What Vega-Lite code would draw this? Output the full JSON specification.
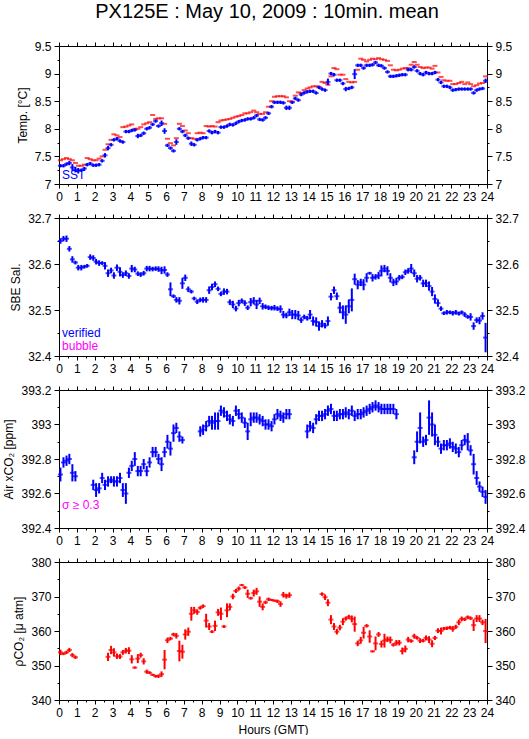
{
"$schema": "https://vega.github.io/schema/vega-lite/v6.json",
"padding": {"left": 2, "top": 2, "right": 0, "bottom": 0},
"title": {"text": "PX125E : May 10, 2009 : 10min. mean", "fontSize": 20, "fontWeight": "normal", "font": "Liberation Sans", "anchor": "middle", "offset": 18, "dx": 3, "color": "black"},
"config": {
 "font": "Liberation Sans",
 "view": {"stroke": null},
 "axis": {"domainColor": "black", "tickColor": "black", "labelColor": "black", "titleColor": "black", "grid": false, "labelFont": "Liberation Sans", "titleFont": "Liberation Sans", "titleFontWeight": "normal", "titleFontSize": 12, "labelFontSize": 12, "labelOverlap": false, "labelFlush": false, "labelBound": false, "domainWidth": 1, "tickWidth": 1, "labelPadding": 3, "titlePadding": 5}
},
"bounds": "flush",
"spacing": 34,
"datasets": {
"tempR": [
{"h":0.08,"v":7.43},{"h":0.25,"v":7.45},{"h":0.42,"v":7.47},{"h":0.58,"v":7.45},{"h":0.75,"v":7.43},{"h":0.92,"v":7.38},
{"h":1.08,"v":7.33},{"h":1.25,"v":7.33},{"h":1.42,"v":7.35},{"h":1.58,"v":7.47},{"h":1.75,"v":7.45},{"h":1.92,"v":7.43},
{"h":2.08,"v":7.43},{"h":2.25,"v":7.46},{"h":2.42,"v":7.5},{"h":2.58,"v":7.62},{"h":2.75,"v":7.72},{"h":2.92,"v":7.8},
{"h":3.08,"v":7.9},{"h":3.25,"v":7.88},{"h":3.42,"v":7.85},{"h":3.58,"v":8.03},{"h":3.75,"v":8.04},{"h":3.92,"v":8.06},
{"h":4.08,"v":8.08},{"h":4.25,"v":8.0},{"h":4.42,"v":8.0},{"h":4.58,"v":8.03},{"h":4.75,"v":8.08},{"h":4.92,"v":8.1},
{"h":5.08,"v":8.12},{"h":5.25,"v":8.25},{"h":5.42,"v":8.18},{"h":5.58,"v":8.19},{"h":5.75,"v":8.19},{"h":5.92,"v":8.09},
{"h":6.08,"v":7.82},{"h":6.25,"v":7.74},{"h":6.42,"v":7.7},{"h":6.58,"v":7.83},{"h":6.75,"v":8.09},{"h":6.92,"v":8.05},
{"h":7.08,"v":7.97},{"h":7.25,"v":7.92},{"h":7.42,"v":7.83},{"h":7.58,"v":7.82},{"h":7.75,"v":7.92},{"h":7.92,"v":7.93},
{"h":8.08,"v":7.92},{"h":8.25,"v":8.05},{"h":8.42,"v":8.04},{"h":8.58,"v":8.05},{"h":8.75,"v":8.04},{"h":8.92,"v":8.12},
{"h":9.08,"v":8.15},{"h":9.25,"v":8.16},{"h":9.42,"v":8.17},{"h":9.58,"v":8.18},{"h":9.75,"v":8.2},{"h":9.92,"v":8.22},
{"h":10.08,"v":8.23},{"h":10.25,"v":8.25},{"h":10.42,"v":8.28},{"h":10.58,"v":8.28},{"h":10.75,"v":8.3},{"h":10.92,"v":8.33},
{"h":11.08,"v":8.3},{"h":11.25,"v":8.27},{"h":11.42,"v":8.27},{"h":11.58,"v":8.3},{"h":11.75,"v":8.4},{"h":11.92,"v":8.5},
{"h":12.08,"v":8.58},{"h":12.25,"v":8.59},{"h":12.42,"v":8.59},{"h":12.58,"v":8.59},{"h":12.75,"v":8.57},{"h":12.92,"v":8.5},
{"h":13.08,"v":8.49},{"h":13.25,"v":8.6},{"h":13.42,"v":8.66},{"h":13.58,"v":8.65},{"h":13.75,"v":8.7},{"h":13.92,"v":8.73},
{"h":14.08,"v":8.75},{"h":14.25,"v":8.77},{"h":14.42,"v":8.77},{"h":14.58,"v":8.76},{"h":14.75,"v":8.85},{"h":14.92,"v":8.83},
{"h":15.08,"v":8.8},{"h":15.25,"v":8.95},{"h":15.42,"v":9.1},{"h":15.58,"v":9.08},{"h":15.75,"v":8.98},{"h":15.92,"v":8.98},
{"h":16.08,"v":8.9},{"h":16.25,"v":8.85},{"h":16.42,"v":8.84},{"h":16.58,"v":8.85},{"h":16.75,"v":9.07},{"h":16.92,"v":9.27},
{"h":17.08,"v":9.25},{"h":17.25,"v":9.22},{"h":17.42,"v":9.25},{"h":17.58,"v":9.27},{"h":17.75,"v":9.26},{"h":17.92,"v":9.28},
{"h":18.08,"v":9.26},{"h":18.25,"v":9.25},{"h":18.42,"v":9.23},{"h":18.58,"v":9.15},{"h":18.75,"v":9.07},{"h":18.92,"v":9.06},
{"h":19.08,"v":9.07},{"h":19.25,"v":9.09},{"h":19.42,"v":9.1},{"h":19.58,"v":9.1},{"h":19.75,"v":9.16},{"h":19.92,"v":9.21},
{"h":20.08,"v":9.16},{"h":20.25,"v":9.12},{"h":20.42,"v":9.1},{"h":20.58,"v":9.11},{"h":20.75,"v":9.11},{"h":20.92,"v":9.09},
{"h":21.08,"v":9.14},{"h":21.25,"v":9.02},{"h":21.42,"v":8.94},{"h":21.58,"v":8.88},{"h":21.75,"v":8.87},{"h":21.92,"v":8.87},
{"h":22.08,"v":8.81},{"h":22.25,"v":8.81},{"h":22.42,"v":8.83},{"h":22.58,"v":8.85},{"h":22.75,"v":8.81},{"h":22.92,"v":8.84},
{"h":23.08,"v":8.81},{"h":23.25,"v":8.77},{"h":23.42,"v":8.79},{"h":23.58,"v":8.82},{"h":23.75,"v":8.83},{"h":23.92,"v":8.95}
],
"tempB": [
{"h":0.08,"v":7.33,"e":0.03},{"h":0.25,"v":7.33,"e":0.03},{"h":0.42,"v":7.36,"e":0.03},{"h":0.58,"v":7.38,"e":0.04},{"h":0.75,"v":7.3,"e":0.06},{"h":0.92,"v":7.26,"e":0.05},
{"h":1.08,"v":7.24,"e":0.05},{"h":1.25,"v":7.25,"e":0.03},{"h":1.42,"v":7.28,"e":0.03},{"h":1.58,"v":7.35,"e":0.03},{"h":1.75,"v":7.37,"e":0.03},{"h":1.92,"v":7.34,"e":0.03},
{"h":2.08,"v":7.34,"e":0.03},{"h":2.25,"v":7.35,"e":0.03},{"h":2.42,"v":7.42,"e":0.03},{"h":2.58,"v":7.52,"e":0.04},{"h":2.75,"v":7.65,"e":0.04},{"h":2.92,"v":7.71,"e":0.03},
{"h":3.08,"v":7.8,"e":0.03},{"h":3.25,"v":7.82,"e":0.03},{"h":3.42,"v":7.78,"e":0.03},{"h":3.58,"v":7.76,"e":0.03},{"h":3.75,"v":7.95,"e":0.03},{"h":3.92,"v":7.95,"e":0.03},
{"h":4.08,"v":7.97,"e":0.03},{"h":4.25,"v":7.98,"e":0.03},{"h":4.42,"v":7.87,"e":0.04},{"h":4.58,"v":7.88,"e":0.03},{"h":4.75,"v":7.92,"e":0.03},{"h":4.92,"v":8.0,"e":0.03},
{"h":5.08,"v":8.02,"e":0.03},{"h":5.25,"v":8.08,"e":0.03},{"h":5.42,"v":8.14,"e":0.03},{"h":5.58,"v":8.05,"e":0.03},{"h":5.75,"v":8.1,"e":0.05},{"h":5.92,"v":7.96,"e":0.05},
{"h":6.08,"v":7.7,"e":0.03},{"h":6.25,"v":7.65,"e":0.03},{"h":6.42,"v":7.6,"e":0.03},{"h":6.58,"v":7.76,"e":0.05},{"h":6.75,"v":8.0,"e":0.03},{"h":6.92,"v":7.95,"e":0.03},
{"h":7.08,"v":7.88,"e":0.03},{"h":7.25,"v":7.83,"e":0.03},{"h":7.42,"v":7.73,"e":0.04},{"h":7.58,"v":7.71,"e":0.03},{"h":7.75,"v":7.8,"e":0.03},{"h":7.92,"v":7.82,"e":0.03},
{"h":8.08,"v":7.84,"e":0.03},{"h":8.25,"v":7.84,"e":0.03},{"h":8.42,"v":7.96,"e":0.03},{"h":8.58,"v":7.93,"e":0.03},{"h":8.75,"v":7.95,"e":0.03},{"h":8.92,"v":7.93,"e":0.03},
{"h":9.08,"v":8.03,"e":0.03},{"h":9.25,"v":8.03,"e":0.03},{"h":9.42,"v":8.05,"e":0.03},{"h":9.58,"v":8.08,"e":0.03},{"h":9.75,"v":8.07,"e":0.03},{"h":9.92,"v":8.1,"e":0.03},
{"h":10.08,"v":8.13,"e":0.03},{"h":10.25,"v":8.15,"e":0.03},{"h":10.42,"v":8.16,"e":0.03},{"h":10.58,"v":8.18,"e":0.03},{"h":10.75,"v":8.18,"e":0.03},{"h":10.92,"v":8.2,"e":0.03},
{"h":11.08,"v":8.24,"e":0.03},{"h":11.25,"v":8.17,"e":0.03},{"h":11.42,"v":8.16,"e":0.03},{"h":11.58,"v":8.2,"e":0.03},{"h":11.75,"v":8.28,"e":0.03},{"h":11.92,"v":8.4,"e":0.03},
{"h":12.08,"v":8.48,"e":0.03},{"h":12.25,"v":8.48,"e":0.03},{"h":12.42,"v":8.48,"e":0.03},{"h":12.58,"v":8.47,"e":0.03},{"h":12.75,"v":8.38,"e":0.04},{"h":12.92,"v":8.38,"e":0.04},
{"h":13.08,"v":8.48,"e":0.03},{"h":13.25,"v":8.55,"e":0.03},{"h":13.42,"v":8.52,"e":0.03},{"h":13.58,"v":8.62,"e":0.03},{"h":13.75,"v":8.65,"e":0.03},{"h":13.92,"v":8.67,"e":0.03},
{"h":14.08,"v":8.68,"e":0.03},{"h":14.25,"v":8.68,"e":0.03},{"h":14.42,"v":8.65,"e":0.03},{"h":14.58,"v":8.75,"e":0.03},{"h":14.75,"v":8.72,"e":0.03},{"h":14.92,"v":8.7,"e":0.03},
{"h":15.08,"v":8.85,"e":0.06},{"h":15.25,"v":9.0,"e":0.03},{"h":15.42,"v":8.98,"e":0.03},{"h":15.58,"v":8.88,"e":0.03},{"h":15.75,"v":8.88,"e":0.03},{"h":15.92,"v":8.82,"e":0.03},
{"h":16.08,"v":8.72,"e":0.04},{"h":16.25,"v":8.73,"e":0.03},{"h":16.42,"v":8.75,"e":0.03},{"h":16.58,"v":8.99,"e":0.09},{"h":16.75,"v":9.15,"e":0.03},{"h":16.92,"v":9.15,"e":0.03},
{"h":17.08,"v":9.1,"e":0.03},{"h":17.25,"v":9.15,"e":0.03},{"h":17.42,"v":9.15,"e":0.03},{"h":17.58,"v":9.16,"e":0.03},{"h":17.75,"v":9.2,"e":0.03},{"h":17.92,"v":9.15,"e":0.03},
{"h":18.08,"v":9.14,"e":0.03},{"h":18.25,"v":9.1,"e":0.03},{"h":18.42,"v":9.03,"e":0.03},{"h":18.58,"v":8.95,"e":0.03},{"h":18.75,"v":8.95,"e":0.03},{"h":18.92,"v":8.96,"e":0.03},
{"h":19.08,"v":8.97,"e":0.03},{"h":19.25,"v":8.98,"e":0.03},{"h":19.42,"v":8.98,"e":0.03},{"h":19.58,"v":9.07,"e":0.03},{"h":19.75,"v":9.07,"e":0.03},{"h":19.92,"v":9.12,"e":0.03},
{"h":20.08,"v":9.05,"e":0.03},{"h":20.25,"v":9.0,"e":0.03},{"h":20.42,"v":8.98,"e":0.03},{"h":20.58,"v":9.02,"e":0.03},{"h":20.75,"v":9.0,"e":0.03},{"h":20.92,"v":9.0,"e":0.03},
{"h":21.08,"v":9.02,"e":0.03},{"h":21.25,"v":8.89,"e":0.03},{"h":21.42,"v":8.84,"e":0.03},{"h":21.58,"v":8.77,"e":0.03},{"h":21.75,"v":8.77,"e":0.03},{"h":21.92,"v":8.75,"e":0.03},
{"h":22.08,"v":8.7,"e":0.03},{"h":22.25,"v":8.71,"e":0.03},{"h":22.42,"v":8.72,"e":0.03},{"h":22.58,"v":8.72,"e":0.03},{"h":22.75,"v":8.72,"e":0.03},{"h":22.92,"v":8.72,"e":0.03},
{"h":23.08,"v":8.72,"e":0.03},{"h":23.25,"v":8.65,"e":0.03},{"h":23.42,"v":8.7,"e":0.03},{"h":23.58,"v":8.72,"e":0.03},{"h":23.75,"v":8.73,"e":0.03},{"h":23.92,"v":8.87,"e":0.04}
],
"sal": [
{"h":0.08,"v":32.65,"e":0.006},{"h":0.25,"v":32.655,"e":0.006},{"h":0.42,"v":32.655,"e":0.007},{"h":0.58,"v":32.633,"e":0.006},{"h":0.75,"v":32.61,"e":0.007},{"h":0.92,"v":32.603,"e":0.004},
{"h":1.08,"v":32.592,"e":0.006},{"h":1.25,"v":32.592,"e":0.006},{"h":1.42,"v":32.594,"e":0.004},{"h":1.58,"v":32.596,"e":0.004},{"h":1.75,"v":32.615,"e":0.006},{"h":1.92,"v":32.613,"e":0.006},
{"h":2.08,"v":32.605,"e":0.006},{"h":2.25,"v":32.602,"e":0.006},{"h":2.42,"v":32.602,"e":0.004},{"h":2.58,"v":32.596,"e":0.008},{"h":2.75,"v":32.58,"e":0.008},{"h":2.92,"v":32.586,"e":0.006},
{"h":3.08,"v":32.575,"e":0.007},{"h":3.25,"v":32.592,"e":0.007},{"h":3.42,"v":32.583,"e":0.01},{"h":3.58,"v":32.576,"e":0.006},{"h":3.75,"v":32.58,"e":0.006},{"h":3.92,"v":32.574,"e":0.006},
{"h":4.08,"v":32.59,"e":0.008},{"h":4.25,"v":32.588,"e":0.006},{"h":4.42,"v":32.579,"e":0.005},{"h":4.58,"v":32.577,"e":0.005},{"h":4.75,"v":32.58,"e":0.005},{"h":4.92,"v":32.59,"e":0.006},
{"h":5.08,"v":32.59,"e":0.006},{"h":5.25,"v":32.589,"e":0.005},{"h":5.42,"v":32.59,"e":0.005},{"h":5.58,"v":32.589,"e":0.006},{"h":5.75,"v":32.586,"e":0.008},{"h":5.92,"v":32.587,"e":0.008},
{"h":6.08,"v":32.577,"e":0.005},{"h":6.25,"v":32.545,"e":0.015},{"h":6.42,"v":32.53,"e":0.004},{"h":6.58,"v":32.522,"e":0.006},{"h":6.75,"v":32.52,"e":0.008},{"h":6.92,"v":32.558,"e":0.012},
{"h":7.08,"v":32.57,"e":0.007},{"h":7.25,"v":32.545,"e":0.006},{"h":7.42,"v":32.54,"e":0.004},{"h":7.58,"v":32.525,"e":0.004},{"h":7.75,"v":32.518,"e":0.005},{"h":7.92,"v":32.522,"e":0.005},
{"h":8.08,"v":32.522,"e":0.006},{"h":8.25,"v":32.522,"e":0.006},{"h":8.42,"v":32.543,"e":0.008},{"h":8.58,"v":32.55,"e":0.007},{"h":8.75,"v":32.556,"e":0.006},{"h":8.92,"v":32.546,"e":0.005},
{"h":9.08,"v":32.535,"e":0.005},{"h":9.25,"v":32.54,"e":0.007},{"h":9.42,"v":32.54,"e":0.006},{"h":9.58,"v":32.517,"e":0.006},{"h":9.75,"v":32.512,"e":0.008},{"h":9.92,"v":32.503,"e":0.006},
{"h":10.08,"v":32.515,"e":0.007},{"h":10.25,"v":32.52,"e":0.005},{"h":10.42,"v":32.515,"e":0.006},{"h":10.58,"v":32.505,"e":0.005},{"h":10.75,"v":32.517,"e":0.009},{"h":10.92,"v":32.52,"e":0.008},
{"h":11.08,"v":32.512,"e":0.01},{"h":11.25,"v":32.52,"e":0.007},{"h":11.42,"v":32.508,"e":0.007},{"h":11.58,"v":32.507,"e":0.005},{"h":11.75,"v":32.505,"e":0.005},{"h":11.92,"v":32.504,"e":0.005},
{"h":12.08,"v":32.505,"e":0.006},{"h":12.25,"v":32.503,"e":0.005},{"h":12.42,"v":32.502,"e":0.008},{"h":12.58,"v":32.49,"e":0.008},{"h":12.75,"v":32.488,"e":0.006},{"h":12.92,"v":32.495,"e":0.008},
{"h":13.08,"v":32.49,"e":0.01},{"h":13.25,"v":32.49,"e":0.01},{"h":13.42,"v":32.488,"e":0.01},{"h":13.58,"v":32.478,"e":0.006},{"h":13.75,"v":32.485,"e":0.005},{"h":13.92,"v":32.482,"e":0.005},
{"h":14.08,"v":32.49,"e":0.01},{"h":14.25,"v":32.476,"e":0.01},{"h":14.42,"v":32.474,"e":0.01},{"h":14.58,"v":32.465,"e":0.01},{"h":14.75,"v":32.47,"e":0.008},{"h":14.92,"v":32.466,"e":0.006},
{"h":15.08,"v":32.476,"e":0.01},{"h":15.25,"v":32.529,"e":0.008},{"h":15.42,"v":32.543,"e":0.008},{"h":15.58,"v":32.53,"e":0.008},{"h":15.75,"v":32.505,"e":0.012},{"h":15.92,"v":32.495,"e":0.015},
{"h":16.08,"v":32.49,"e":0.02},{"h":16.25,"v":32.508,"e":0.015},{"h":16.42,"v":32.522,"e":0.025},{"h":16.58,"v":32.567,"e":0.012},{"h":16.75,"v":32.555,"e":0.01},{"h":16.92,"v":32.56,"e":0.008},
{"h":17.08,"v":32.555,"e":0.012},{"h":17.25,"v":32.57,"e":0.01},{"h":17.42,"v":32.58,"e":0.003},{"h":17.58,"v":32.57,"e":0.008},{"h":17.75,"v":32.572,"e":0.006},{"h":17.92,"v":32.575,"e":0.008},
{"h":18.08,"v":32.585,"e":0.012},{"h":18.25,"v":32.59,"e":0.008},{"h":18.42,"v":32.585,"e":0.01},{"h":18.58,"v":32.57,"e":0.01},{"h":18.75,"v":32.56,"e":0.008},{"h":18.92,"v":32.562,"e":0.008},
{"h":19.08,"v":32.57,"e":0.006},{"h":19.25,"v":32.572,"e":0.005},{"h":19.42,"v":32.582,"e":0.006},{"h":19.58,"v":32.585,"e":0.006},{"h":19.75,"v":32.59,"e":0.01},{"h":19.92,"v":32.58,"e":0.008},
{"h":20.08,"v":32.568,"e":0.008},{"h":20.25,"v":32.57,"e":0.006},{"h":20.42,"v":32.558,"e":0.008},{"h":20.58,"v":32.558,"e":0.008},{"h":20.75,"v":32.552,"e":0.01},{"h":20.92,"v":32.54,"e":0.01},
{"h":21.08,"v":32.524,"e":0.01},{"h":21.25,"v":32.515,"e":0.008},{"h":21.42,"v":32.503,"e":0.005},{"h":21.58,"v":32.493,"e":0.004},{"h":21.75,"v":32.495,"e":0.005},{"h":21.92,"v":32.495,"e":0.004},
{"h":22.08,"v":32.493,"e":0.005},{"h":22.25,"v":32.495,"e":0.005},{"h":22.42,"v":32.492,"e":0.004},{"h":22.58,"v":32.495,"e":0.004},{"h":22.75,"v":32.49,"e":0.005},{"h":22.92,"v":32.485,"e":0.004},
{"h":23.08,"v":32.485,"e":0.008},{"h":23.25,"v":32.465,"e":0.008},{"h":23.42,"v":32.478,"e":0.006},{"h":23.58,"v":32.477,"e":0.008},{"h":23.75,"v":32.487,"e":0.008},{"h":23.92,"v":32.44,"e":0.032}
],
"xco2": [
{"h":0.08,"v":392.71,"e":0.04},{"h":0.25,"v":392.78,"e":0.03},{"h":0.42,"v":392.79,"e":0.03},{"h":0.58,"v":392.8,"e":0.03},{"h":0.75,"v":392.72,"e":0.05},{"h":0.92,"v":392.7,"e":0.03},
{"h":1.92,"v":392.65,"e":0.03},{"h":2.08,"v":392.62,"e":0.04},{"h":2.25,"v":392.63,"e":0.03},{"h":2.42,"v":392.69,"e":0.03},{"h":2.58,"v":392.65,"e":0.03},{"h":2.75,"v":392.67,"e":0.03},{"h":2.92,"v":392.68,"e":0.02},
{"h":3.08,"v":392.67,"e":0.03},{"h":3.25,"v":392.67,"e":0.03},{"h":3.42,"v":392.69,"e":0.03},{"h":3.58,"v":392.62,"e":0.04},{"h":3.75,"v":392.6,"e":0.06},{"h":3.92,"v":392.72,"e":0.03},
{"h":4.08,"v":392.76,"e":0.03},{"h":4.25,"v":392.8,"e":0.04},{"h":4.42,"v":392.73,"e":0.03},{"h":4.58,"v":392.73,"e":0.03},{"h":4.75,"v":392.77,"e":0.03},{"h":4.92,"v":392.73,"e":0.03},
{"h":5.08,"v":392.78,"e":0.03},{"h":5.25,"v":392.84,"e":0.03},{"h":5.42,"v":392.84,"e":0.03},{"h":5.58,"v":392.8,"e":0.03},{"h":5.75,"v":392.77,"e":0.04},{"h":5.92,"v":392.84,"e":0.03},
{"h":6.08,"v":392.9,"e":0.04},{"h":6.25,"v":392.86,"e":0.04},{"h":6.42,"v":392.95,"e":0.05},{"h":6.58,"v":392.98,"e":0.03},{"h":6.75,"v":392.93,"e":0.03},{"h":6.92,"v":392.91,"e":0.02},
{"h":7.92,"v":392.96,"e":0.03},{"h":8.08,"v":392.97,"e":0.03},{"h":8.25,"v":392.99,"e":0.03},{"h":8.42,"v":393.02,"e":0.03},{"h":8.58,"v":393.01,"e":0.04},{"h":8.75,"v":393.02,"e":0.05},{"h":8.92,"v":393.02,"e":0.05},
{"h":9.08,"v":393.08,"e":0.03},{"h":9.25,"v":393.07,"e":0.03},{"h":9.42,"v":393.05,"e":0.03},{"h":9.58,"v":393.03,"e":0.03},{"h":9.75,"v":393.02,"e":0.03},{"h":9.92,"v":393.08,"e":0.03},
{"h":10.08,"v":393.06,"e":0.03},{"h":10.25,"v":393.04,"e":0.03},{"h":10.42,"v":393.01,"e":0.03},{"h":10.58,"v":392.96,"e":0.05},{"h":10.75,"v":393.03,"e":0.04},{"h":10.92,"v":393.04,"e":0.03},
{"h":11.08,"v":393.04,"e":0.03},{"h":11.25,"v":393.03,"e":0.03},{"h":11.42,"v":393.02,"e":0.03},{"h":11.58,"v":393.0,"e":0.03},{"h":11.75,"v":393.0,"e":0.03},{"h":11.92,"v":392.99,"e":0.03},
{"h":12.08,"v":393.03,"e":0.03},{"h":12.25,"v":393.06,"e":0.03},{"h":12.42,"v":393.05,"e":0.03},{"h":12.58,"v":393.04,"e":0.03},{"h":12.75,"v":393.06,"e":0.03},{"h":12.92,"v":393.06,"e":0.03},
{"h":13.92,"v":392.96,"e":0.04},{"h":14.08,"v":392.99,"e":0.03},{"h":14.25,"v":392.98,"e":0.03},{"h":14.42,"v":393.03,"e":0.03},{"h":14.58,"v":393.05,"e":0.03},{"h":14.75,"v":393.05,"e":0.03},{"h":14.92,"v":393.06,"e":0.03},
{"h":15.08,"v":393.08,"e":0.03},{"h":15.25,"v":393.09,"e":0.03},{"h":15.42,"v":393.05,"e":0.03},{"h":15.58,"v":393.05,"e":0.03},{"h":15.75,"v":393.06,"e":0.03},{"h":15.92,"v":393.06,"e":0.03},
{"h":16.08,"v":393.07,"e":0.03},{"h":16.25,"v":393.06,"e":0.03},{"h":16.42,"v":393.08,"e":0.03},{"h":16.58,"v":393.05,"e":0.03},{"h":16.75,"v":393.06,"e":0.03},{"h":16.92,"v":393.06,"e":0.03},
{"h":17.08,"v":393.07,"e":0.03},{"h":17.25,"v":393.08,"e":0.03},{"h":17.42,"v":393.09,"e":0.03},{"h":17.58,"v":393.1,"e":0.03},{"h":17.75,"v":393.11,"e":0.03},{"h":17.92,"v":393.1,"e":0.03},
{"h":18.08,"v":393.09,"e":0.03},{"h":18.25,"v":393.09,"e":0.03},{"h":18.42,"v":393.09,"e":0.03},{"h":18.58,"v":393.09,"e":0.03},{"h":18.75,"v":393.09,"e":0.03},{"h":18.92,"v":393.06,"e":0.03},
{"h":19.92,"v":392.81,"e":0.04},{"h":20.08,"v":392.9,"e":0.06},{"h":20.25,"v":392.98,"e":0.09},{"h":20.42,"v":392.9,"e":0.03},{"h":20.58,"v":392.91,"e":0.03},{"h":20.75,"v":393.04,"e":0.1},{"h":20.92,"v":393.0,"e":0.07},
{"h":21.08,"v":392.94,"e":0.06},{"h":21.25,"v":392.9,"e":0.03},{"h":21.42,"v":392.86,"e":0.03},{"h":21.58,"v":392.88,"e":0.03},{"h":21.75,"v":392.88,"e":0.03},{"h":21.92,"v":392.89,"e":0.03},
{"h":22.08,"v":392.87,"e":0.03},{"h":22.25,"v":392.86,"e":0.03},{"h":22.42,"v":392.84,"e":0.03},{"h":22.58,"v":392.88,"e":0.03},{"h":22.75,"v":392.91,"e":0.03},{"h":22.92,"v":392.9,"e":0.05},
{"h":23.08,"v":392.85,"e":0.03},{"h":23.25,"v":392.77,"e":0.06},{"h":23.42,"v":392.69,"e":0.04},{"h":23.58,"v":392.64,"e":0.03},{"h":23.75,"v":392.61,"e":0.03},{"h":23.92,"v":392.58,"e":0.04}
],
"pco2": [
{"h":0.08,"v":353.8,"e":0.8},{"h":0.25,"v":353.4,"e":0.4},{"h":0.42,"v":353.8,"e":0.5},{"h":0.58,"v":354.5,"e":0.6},{"h":0.75,"v":353.0,"e":0.6},{"h":0.92,"v":352.4,"e":0.5},
{"h":2.75,"v":352.5,"e":1.2},{"h":2.92,"v":354.5,"e":1.2},{"h":3.08,"v":353.8,"e":1.2},{"h":3.25,"v":352.7,"e":0.8},{"h":3.42,"v":352.6,"e":0.7},{"h":3.58,"v":353.8,"e":0.7},{"h":3.75,"v":354.3,"e":0.8},{"h":3.92,"v":354.3,"e":1.0},
{"h":4.08,"v":351.8,"e":1.2},{"h":4.25,"v":349.4,"e":0.3},{"h":4.42,"v":352.0,"e":1.3},{"h":4.58,"v":353.0,"e":0.7},{"h":4.75,"v":351.2,"e":0.9},{"h":4.92,"v":348.2,"e":0.6},
{"h":5.08,"v":347.9,"e":0.4},{"h":5.25,"v":347.3,"e":0.3},{"h":5.42,"v":346.9,"e":0.4},{"h":5.58,"v":346.9,"e":0.5},{"h":5.75,"v":347.5,"e":0.8},{"h":5.92,"v":351.7,"e":2.8},
{"h":6.08,"v":357.3,"e":0.8},{"h":6.25,"v":357.8,"e":0.5},{"h":6.42,"v":359.0,"e":0.5},{"h":6.58,"v":358.6,"e":0.8},{"h":6.75,"v":354.2,"e":3.0},{"h":6.92,"v":354.0,"e":2.0},
{"h":7.08,"v":359.0,"e":1.5},{"h":7.25,"v":359.8,"e":1.2},{"h":7.42,"v":365.0,"e":2.0},{"h":7.58,"v":366.0,"e":1.0},{"h":7.75,"v":365.5,"e":0.8},{"h":7.92,"v":366.7,"e":0.5},
{"h":8.08,"v":367.2,"e":0.5},{"h":8.25,"v":363.0,"e":2.0},{"h":8.42,"v":361.3,"e":1.0},{"h":8.58,"v":359.8,"e":0.4},{"h":8.75,"v":361.5,"e":1.5},{"h":8.92,"v":365.4,"e":1.0},
{"h":9.08,"v":365.0,"e":1.8},{"h":9.25,"v":361.3,"e":0.4},{"h":9.42,"v":366.0,"e":2.0},{"h":9.58,"v":367.0,"e":1.0},{"h":9.75,"v":370.0,"e":0.8},{"h":9.92,"v":371.6,"e":0.6},
{"h":10.08,"v":372.3,"e":0.6},{"h":10.25,"v":373.3,"e":0.3},{"h":10.42,"v":372.6,"e":0.4},{"h":10.58,"v":370.8,"e":1.2},{"h":10.75,"v":369.5,"e":0.4},{"h":10.92,"v":371.0,"e":1.0},
{"h":11.08,"v":371.5,"e":1.0},{"h":11.25,"v":368.5,"e":1.5},{"h":11.42,"v":367.0,"e":1.0},{"h":11.58,"v":368.3,"e":0.5},{"h":11.75,"v":369.2,"e":0.5},{"h":11.92,"v":369.0,"e":0.3},
{"h":12.08,"v":368.8,"e":0.3},{"h":12.25,"v":368.6,"e":0.5},{"h":12.42,"v":367.8,"e":0.8},{"h":12.58,"v":370.5,"e":0.8},{"h":12.75,"v":370.1,"e":0.7},{"h":12.92,"v":370.4,"e":0.8},
{"h":14.75,"v":370.7,"e":0.5},{"h":14.92,"v":369.8,"e":0.8},
{"h":15.08,"v":368.2,"e":1.0},{"h":15.25,"v":363.3,"e":1.3},{"h":15.42,"v":361.3,"e":1.0},{"h":15.58,"v":359.8,"e":0.8},{"h":15.75,"v":361.0,"e":0.8},{"h":15.92,"v":362.7,"e":1.0},
{"h":16.08,"v":363.6,"e":0.6},{"h":16.25,"v":364.1,"e":0.6},{"h":16.42,"v":363.5,"e":1.0},{"h":16.58,"v":362.0,"e":2.2},{"h":16.75,"v":356.4,"e":0.8},{"h":16.92,"v":357.3,"e":1.0},
{"h":17.08,"v":359.5,"e":1.7},{"h":17.25,"v":361.5,"e":0.5},{"h":17.42,"v":358.4,"e":1.8},{"h":17.58,"v":354.1,"e":0.3},{"h":17.75,"v":356.4,"e":2.0},{"h":17.92,"v":359.0,"e":0.7},
{"h":18.08,"v":356.2,"e":1.0},{"h":18.25,"v":357.2,"e":2.0},{"h":18.42,"v":357.6,"e":0.8},{"h":18.58,"v":357.4,"e":1.0},{"h":18.75,"v":356.0,"e":0.5},{"h":18.92,"v":356.6,"e":0.8},
{"h":19.08,"v":356.6,"e":0.8},{"h":19.25,"v":354.2,"e":1.0},{"h":19.42,"v":354.8,"e":1.0},{"h":19.58,"v":357.5,"e":0.8},{"h":19.75,"v":357.1,"e":0.5},{"h":19.92,"v":358.5,"e":0.7},
{"h":20.08,"v":358.0,"e":0.5},{"h":20.25,"v":357.2,"e":0.7},{"h":20.42,"v":357.2,"e":0.5},{"h":20.58,"v":358.0,"e":0.7},{"h":20.75,"v":357.5,"e":1.0},{"h":20.92,"v":356.3,"e":1.0},
{"h":21.08,"v":358.0,"e":0.6},{"h":21.25,"v":360.1,"e":0.7},{"h":21.42,"v":360.0,"e":1.0},{"h":21.58,"v":360.7,"e":0.5},{"h":21.75,"v":360.8,"e":0.5},{"h":21.92,"v":361.0,"e":0.5},
{"h":22.08,"v":360.6,"e":0.8},{"h":22.25,"v":361.2,"e":0.6},{"h":22.42,"v":362.5,"e":0.8},{"h":22.58,"v":363.5,"e":0.7},{"h":22.75,"v":363.4,"e":0.5},{"h":22.92,"v":364.0,"e":0.5},
{"h":23.08,"v":363.7,"e":0.5},{"h":23.25,"v":361.7,"e":1.7},{"h":23.42,"v":363.6,"e":1.0},{"h":23.58,"v":363.6,"e":1.0},{"h":23.75,"v":362.5,"e":0.8},{"h":23.92,"v":360.0,"e":3.5}
]
},
"vconcat": [
{
 "width": 428, "height": 138,
 "layer": [
  {"data": {"name": "tempR"}, "mark": {"type": "tick", "orient": "horizontal", "size": 5, "thickness": 2, "color": "#ff0000"},
   "encoding": {
    "x": {"field": "h", "type": "quantitative", "scale": {"domain": [0, 24], "nice": false}, "axis": {"orient": "bottom", "values": [0,0.5,1,1.5,2,2.5,3,3.5,4,4.5,5,5.5,6,6.5,7,7.5,8,8.5,9,9.5,10,10.5,11,11.5,12,12.5,13,13.5,14,14.5,15,15.5,16,16.5,17,17.5,18,18.5,19,19.5,20,20.5,21,21.5,22,22.5,23,23.5,24], "labelExpr": "datum.value % 1 == 0 ? format(datum.value, 'd') : ''", "tickSize": {"condition": {"test": "datum.value % 1 == 0", "value": 4}, "value": 2}, "title": null}},
    "y": {"field": "v", "type": "quantitative", "scale": {"domain": [7, 9.5], "nice": false, "zero": false}, "axis": {"orient": "left", "values": [7,7.25,7.5,7.75,8,8.25,8.5,8.75,9,9.25,9.5], "labelExpr": "datum.value % 0.5 == 0 ? format(datum.value, '.1~f') : ''", "tickSize": {"condition": {"test": "datum.value % 0.5 == 0", "value": 5}, "value": 2}, "title": "Temp. [°C]"}}
   }},
  {"data": {"name": "tempB"}, "mark": {"type": "errorbar", "color": "#0000ff", "thickness": 2},
   "encoding": {
    "x": {"field": "h", "type": "quantitative", "axis": {"orient": "top", "values": [0,0.5,1,1.5,2,2.5,3,3.5,4,4.5,5,5.5,6,6.5,7,7.5,8,8.5,9,9.5,10,10.5,11,11.5,12,12.5,13,13.5,14,14.5,15,15.5,16,16.5,17,17.5,18,18.5,19,19.5,20,20.5,21,21.5,22,22.5,23,23.5,24], "labels": false, "tickSize": {"condition": {"test": "datum.value % 1 == 0", "value": 4}, "value": 2}, "title": null}},
    "y": {"field": "v", "type": "quantitative", "axis": {"orient": "right", "values": [7,7.25,7.5,7.75,8,8.25,8.5,8.75,9,9.25,9.5], "labelExpr": "datum.value % 0.5 == 0 ? format(datum.value, '.1~f') : ''", "tickSize": {"condition": {"test": "datum.value % 0.5 == 0", "value": 5}, "value": 2}, "title": null}},
    "yError": {"field": "e"}
   }},
  {"data": {"name": "tempB"}, "mark": {"type": "tick", "orient": "horizontal", "size": 5, "thickness": 2, "color": "#0000ff"},
   "encoding": {
    "x": {"field": "h", "type": "quantitative", "axis": null},
    "y": {"field": "v", "type": "quantitative", "axis": null}
   }},
  {"data": {"values": [{"label": "SST"}]}, "mark": {"type": "text", "align": "left", "baseline": "alphabetic", "color": "#0000ff", "fontSize": 12},
   "encoding": {
    "x": {"datum": 0.17, "type": "quantitative", "axis": null},
    "y": {"datum": 7.09, "type": "quantitative", "axis": null},
    "text": {"field": "label"}
   }}
 ],
 "resolve": {"axis": {"x": "independent", "y": "independent"}}
},
{
 "width": 428, "height": 138,
 "layer": [
  {"data": {"name": "sal"}, "mark": {"type": "errorbar", "color": "#0000ff", "thickness": 2},
   "encoding": {
    "x": {"field": "h", "type": "quantitative", "scale": {"domain": [0, 24], "nice": false}, "axis": {"orient": "bottom", "values": [0,0.5,1,1.5,2,2.5,3,3.5,4,4.5,5,5.5,6,6.5,7,7.5,8,8.5,9,9.5,10,10.5,11,11.5,12,12.5,13,13.5,14,14.5,15,15.5,16,16.5,17,17.5,18,18.5,19,19.5,20,20.5,21,21.5,22,22.5,23,23.5,24], "labelExpr": "datum.value % 1 == 0 ? format(datum.value, 'd') : ''", "tickSize": {"condition": {"test": "datum.value % 1 == 0", "value": 4}, "value": 2}, "title": null}},
    "y": {"field": "v", "type": "quantitative", "scale": {"domain": [32.4, 32.7], "nice": false, "zero": false}, "axis": {"orient": "left", "values": [32.4,32.45,32.5,32.55,32.6,32.65,32.7], "labelExpr": "abs(datum.value*10 - round(datum.value*10)) < 0.001 ? format(datum.value, '.1f') : ''", "tickSize": {"condition": {"test": "abs(datum.value*10 - round(datum.value*10)) < 0.001", "value": 5}, "value": 2}, "title": "SBE Sal."}},
    "yError": {"field": "e"}
   }},
  {"data": {"name": "sal"}, "mark": {"type": "tick", "orient": "horizontal", "size": 5, "thickness": 2, "color": "#0000ff"},
   "encoding": {
    "x": {"field": "h", "type": "quantitative", "axis": {"orient": "top", "values": [0,0.5,1,1.5,2,2.5,3,3.5,4,4.5,5,5.5,6,6.5,7,7.5,8,8.5,9,9.5,10,10.5,11,11.5,12,12.5,13,13.5,14,14.5,15,15.5,16,16.5,17,17.5,18,18.5,19,19.5,20,20.5,21,21.5,22,22.5,23,23.5,24], "labels": false, "tickSize": {"condition": {"test": "datum.value % 1 == 0", "value": 4}, "value": 2}, "title": null}},
    "y": {"field": "v", "type": "quantitative", "axis": {"orient": "right", "values": [32.4,32.45,32.5,32.55,32.6,32.65,32.7], "labelExpr": "abs(datum.value*10 - round(datum.value*10)) < 0.001 ? format(datum.value, '.1f') : ''", "tickSize": {"condition": {"test": "abs(datum.value*10 - round(datum.value*10)) < 0.001", "value": 5}, "value": 2}, "title": null}}
   }},
  {"data": {"values": [{"label": "verified"}]}, "mark": {"type": "text", "align": "left", "baseline": "alphabetic", "color": "#0000ff", "fontSize": 12},
   "encoding": {
    "x": {"datum": 0.17, "type": "quantitative", "axis": null},
    "y": {"datum": 32.4415, "type": "quantitative", "axis": null},
    "text": {"field": "label"}
   }},
  {"data": {"values": [{"label": "bubble"}]}, "mark": {"type": "text", "align": "left", "baseline": "alphabetic", "color": "#ff00ff", "fontSize": 12},
   "encoding": {
    "x": {"datum": 0.17, "type": "quantitative", "axis": null},
    "y": {"datum": 32.412, "type": "quantitative", "axis": null},
    "text": {"field": "label"}
   }}
 ],
 "resolve": {"axis": {"x": "independent", "y": "independent"}}
},
{
 "width": 428, "height": 138,
 "layer": [
  {"data": {"name": "xco2"}, "mark": {"type": "errorbar", "color": "#0000ff", "thickness": 2},
   "encoding": {
    "x": {"field": "h", "type": "quantitative", "scale": {"domain": [0, 24], "nice": false}, "axis": {"orient": "bottom", "values": [0,0.5,1,1.5,2,2.5,3,3.5,4,4.5,5,5.5,6,6.5,7,7.5,8,8.5,9,9.5,10,10.5,11,11.5,12,12.5,13,13.5,14,14.5,15,15.5,16,16.5,17,17.5,18,18.5,19,19.5,20,20.5,21,21.5,22,22.5,23,23.5,24], "labelExpr": "datum.value % 1 == 0 ? format(datum.value, 'd') : ''", "tickSize": {"condition": {"test": "datum.value % 1 == 0", "value": 4}, "value": 2}, "title": null}},
    "y": {"field": "v", "type": "quantitative", "scale": {"domain": [392.4, 393.2], "nice": false, "zero": false}, "axis": {"orient": "left", "values": [392.4,392.5,392.6,392.7,392.8,392.9,393,393.1,393.2], "labelExpr": "abs(datum.value*5 - round(datum.value*5)) < 0.001 ? format(datum.value, '.1~f') : ''", "tickSize": {"condition": {"test": "abs(datum.value*5 - round(datum.value*5)) < 0.001", "value": 5}, "value": 2}, "title": "Air xCO₂ [ppm]"}},
    "yError": {"field": "e"}
   }},
  {"data": {"name": "xco2"}, "mark": {"type": "tick", "orient": "horizontal", "size": 5, "thickness": 2, "color": "#0000ff"},
   "encoding": {
    "x": {"field": "h", "type": "quantitative", "axis": {"orient": "top", "values": [0,0.5,1,1.5,2,2.5,3,3.5,4,4.5,5,5.5,6,6.5,7,7.5,8,8.5,9,9.5,10,10.5,11,11.5,12,12.5,13,13.5,14,14.5,15,15.5,16,16.5,17,17.5,18,18.5,19,19.5,20,20.5,21,21.5,22,22.5,23,23.5,24], "labels": false, "tickSize": {"condition": {"test": "datum.value % 1 == 0", "value": 4}, "value": 2}, "title": null}},
    "y": {"field": "v", "type": "quantitative", "axis": {"orient": "right", "values": [392.4,392.5,392.6,392.7,392.8,392.9,393,393.1,393.2], "labelExpr": "abs(datum.value*5 - round(datum.value*5)) < 0.001 ? format(datum.value, '.1~f') : ''", "tickSize": {"condition": {"test": "abs(datum.value*5 - round(datum.value*5)) < 0.001", "value": 5}, "value": 2}, "title": null}}
   }},
  {"data": {"values": [{"label": "σ ≥ 0.3"}]}, "mark": {"type": "text", "align": "left", "baseline": "alphabetic", "color": "#ff00ff", "fontSize": 12},
   "encoding": {
    "x": {"datum": 0.17, "type": "quantitative", "axis": null},
    "y": {"datum": 392.508, "type": "quantitative", "axis": null},
    "text": {"field": "label"}
   }}
 ],
 "resolve": {"axis": {"x": "independent", "y": "independent"}}
},
{
 "width": 428, "height": 138,
 "layer": [
  {"data": {"name": "pco2"}, "mark": {"type": "errorbar", "color": "#ff0000", "thickness": 2},
   "encoding": {
    "x": {"field": "h", "type": "quantitative", "scale": {"domain": [0, 24], "nice": false}, "axis": {"orient": "bottom", "values": [0,0.5,1,1.5,2,2.5,3,3.5,4,4.5,5,5.5,6,6.5,7,7.5,8,8.5,9,9.5,10,10.5,11,11.5,12,12.5,13,13.5,14,14.5,15,15.5,16,16.5,17,17.5,18,18.5,19,19.5,20,20.5,21,21.5,22,22.5,23,23.5,24], "labelExpr": "datum.value % 1 == 0 ? format(datum.value, 'd') : ''", "tickSize": {"condition": {"test": "datum.value % 1 == 0", "value": 4}, "value": 2}, "title": "Hours (GMT)", "titlePadding": 6}},
    "y": {"field": "v", "type": "quantitative", "scale": {"domain": [340, 380], "nice": false, "zero": false}, "axis": {"orient": "left", "values": [340,345,350,355,360,365,370,375,380], "labelExpr": "datum.value % 10 == 0 ? format(datum.value, 'd') : ''", "tickSize": {"condition": {"test": "datum.value % 10 == 0", "value": 5}, "value": 2}, "title": "ρCO₂ [μ atm]"}},
    "yError": {"field": "e"}
   }},
  {"data": {"name": "pco2"}, "mark": {"type": "tick", "orient": "horizontal", "size": 5, "thickness": 2, "color": "#ff0000"},
   "encoding": {
    "x": {"field": "h", "type": "quantitative", "axis": {"orient": "top", "values": [0,0.5,1,1.5,2,2.5,3,3.5,4,4.5,5,5.5,6,6.5,7,7.5,8,8.5,9,9.5,10,10.5,11,11.5,12,12.5,13,13.5,14,14.5,15,15.5,16,16.5,17,17.5,18,18.5,19,19.5,20,20.5,21,21.5,22,22.5,23,23.5,24], "labels": false, "tickSize": {"condition": {"test": "datum.value % 1 == 0", "value": 4}, "value": 2}, "title": null}},
    "y": {"field": "v", "type": "quantitative", "axis": {"orient": "right", "values": [340,345,350,355,360,365,370,375,380], "labelExpr": "datum.value % 10 == 0 ? format(datum.value, 'd') : ''", "tickSize": {"condition": {"test": "datum.value % 10 == 0", "value": 5}, "value": 2}, "title": null}}
   }}
 ],
 "resolve": {"axis": {"x": "independent", "y": "independent"}}
}
]
}
